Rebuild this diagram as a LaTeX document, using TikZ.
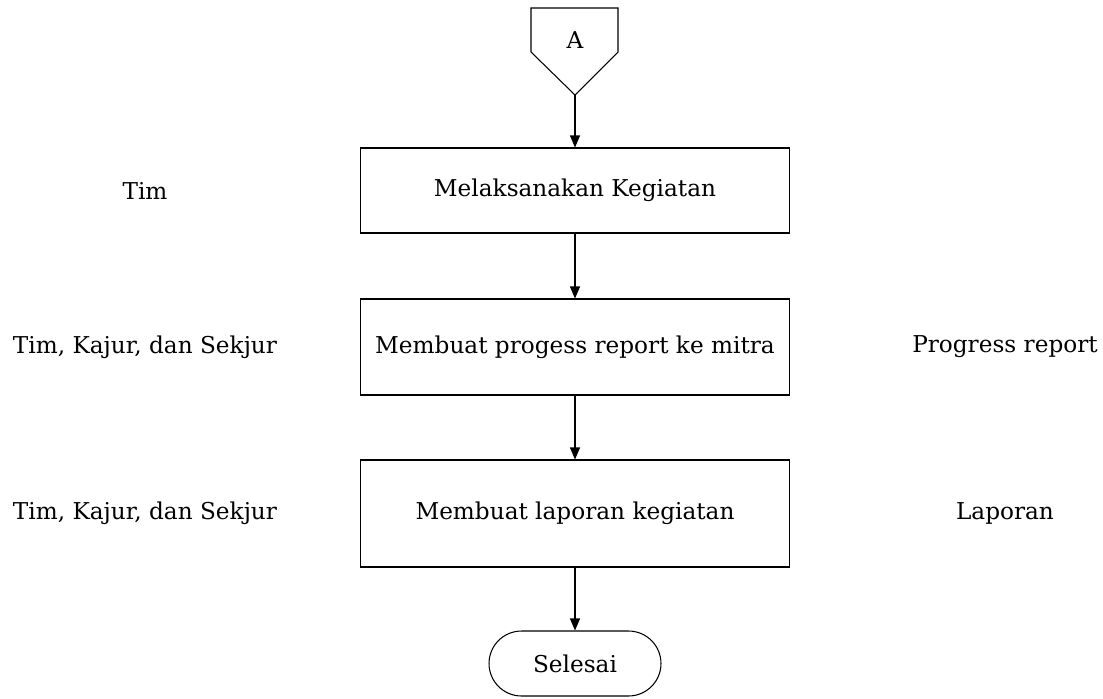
\documentclass[tikz,border=0pt]{standalone}
\usepackage{fontspec}
\setmainfont{DejaVu Serif}
\usetikzlibrary{arrows.meta,positioning}
\tikzset{%
  prosesbox/.style = {shape=rectangle, draw, align=center,%
                      minimum width=8.6cm, inner sep=0pt},%
  terminal/.style  = {shape=rectangle, draw, rounded corners=0.65cm,%
                      minimum width=3.44cm, minimum height=1.3cm},%
  pelaku/.style    = {align=center},%
  dokumen/.style   = {align=center},%
  alur/.style      = {-{Triangle[length=0.24cm,width=0.2cm]}}%
}

\begin{document}
\begin{tikzpicture}
              [x=0.02cm, y=-0.02cm, line width=0.6pt, every node/.style={font=\fontsize{13.2}{16}\selectfont}]
              \useasboundingbox (0,0) rectangle (1103,698);
              % penghubung halaman
              \draw (531,8) -- (618,8) -- (618,52) -- (575,95) -- (531,52) -- cycle;
              \node (A) at (575,40) {A};
              \coordinate (Aujung) at (575,95);
              % proses
              \node [prosesbox, minimum height=1.7cm] (keg) at (575,190.5) {Melaksanakan Kegiatan};
              \node [prosesbox, minimum height=1.92cm] (prog) at (575,347) {Membuat progess report ke mitra};
              \node [prosesbox, minimum height=2.14cm] (lap) at (575,513.5) {Membuat laporan kegiatan};
              \node [terminal] (selesai) at (575,663.5) {Selesai};
              % pelaku dan dokumen
              \node [pelaku] (p1) at (145,190.5) {Tim};
              \node [pelaku] (p2) at (145,347) {Tim, Kajur, dan Sekjur};
              \node [pelaku] (p3) at (145,513.5) {Tim, Kajur, dan Sekjur};
              \node [dokumen] (d2) at (1005,347) {Progress report};
              \node [dokumen] (d3) at (1005,513.5) {Laporan};
              % alur
              \draw [alur] (Aujung) -- (keg);
              \draw [alur] (keg) -- (prog);
              \draw [alur] (prog) -- (lap);
              \draw [alur] (lap) -- (selesai);
        \end{tikzpicture}
\end{document}
